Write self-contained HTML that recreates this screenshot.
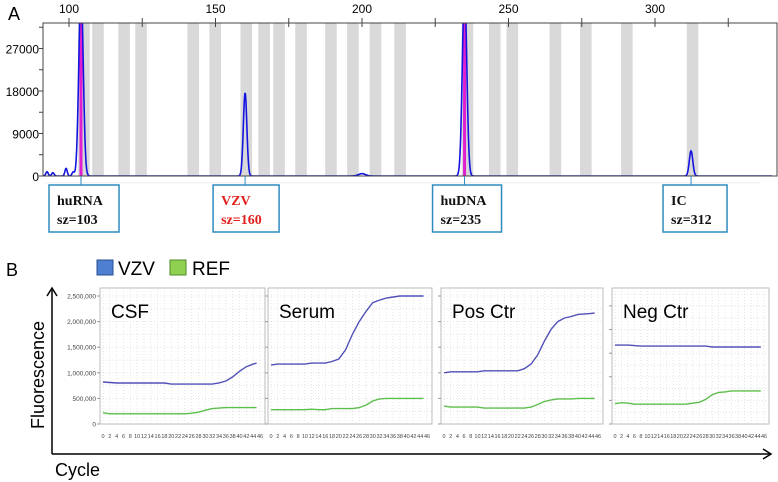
<!DOCTYPE html>
<html><head><meta charset="utf-8">
<style>
body{margin:0;background:#fff;font-family:"Liberation Sans",sans-serif;}
svg{display:block}
</style></head>
<body>
<svg id="fig" width="778" height="482" viewBox="0 0 778 482" xmlns="http://www.w3.org/2000/svg">
<text x="8" y="20" font-size="18">A</text>
<text x="6" y="276" font-size="18">B</text>
<g id="topChart"></g>
<g id="legend">
 <rect x="97" y="260" width="16" height="15" fill="#4f7fd0" stroke="#2a4f90"/>
 <text x="118" y="275" font-size="19">VZV</text>
 <rect x="170" y="260" width="16" height="15" fill="#8fd050" stroke="#4f8a28"/>
 <text x="192" y="275" font-size="19">REF</text>
</g>
<g>
 <line x1="52" y1="290" x2="52" y2="454" stroke="#000" stroke-width="1.5"/>
 <path d="M47,296 L52,288 L57,296" fill="none" stroke="#000" stroke-width="1.5"/>
 <line x1="52" y1="454" x2="770" y2="454" stroke="#000" stroke-width="1.5"/>
 <path d="M763,449 L771,454 L763,459" fill="none" stroke="#000" stroke-width="1.5"/>
 <text transform="translate(44,375) rotate(-90)" text-anchor="middle" font-size="18">Fluorescence</text>
 <text x="55" y="476" font-size="18">Cycle</text>
</g>
<g id="panels"></g>
</svg>
<script>
// ---- Top chart data ----
const peakSizes = [92.5, 94.5, 99, 101.4, 104.1, 160.1, 200, 235, 312.3];
const peakHeights = [900, 700, 1600, 800, 40000, 17600, 500, 40000, 5300];
const peakWidths = [0.4, 0.4, 0.4, 0.4, 0.75, 0.6, 1.2, 0.75, 0.6];
const binCenters = [105.1,109.9,118.8,124.6,142.4,149.9,160.5,166.6,171.7,179.2,189.4,196.9,204.6,213,236.0,245.3,251.3,266,276.4,290.4,312.8];
const sizeTicks = [100,150,200,250,300];
const intensityTicks = [0,9000,18000,27000];
const labelNames = ["huRNA","VZV","huDNA","IC"];
const labelSizes = [103,160,235,312];
const labelPeak = [104.1,160.1,235,312.3];

// ---- qPCR data (millions) ----
const cycles = [0,2,4,6,8,10,12,14,16,18,20,22,24,26,28,30,32,34,36,38,40,42,44,45];
const panelNames = ["CSF","Serum","Pos Ctr","Neg Ctr"];
const vzvCSF = [0.82,0.81,0.80,0.80,0.80,0.80,0.80,0.80,0.80,0.80,0.78,0.78,0.78,0.78,0.78,0.78,0.78,0.80,0.84,0.92,1.03,1.12,1.17,1.19];
const refCSF = [0.22,0.20,0.20,0.20,0.20,0.20,0.20,0.20,0.20,0.20,0.20,0.20,0.20,0.21,0.23,0.27,0.30,0.31,0.32,0.32,0.32,0.32,0.32,0.32];
const vzvSerum = [1.15,1.17,1.17,1.17,1.17,1.17,1.19,1.19,1.19,1.22,1.27,1.45,1.75,2.0,2.2,2.37,2.42,2.46,2.48,2.5,2.5,2.5,2.5,2.5];
const refSerum = [0.28,0.28,0.28,0.28,0.28,0.28,0.29,0.28,0.28,0.30,0.30,0.30,0.30,0.32,0.37,0.45,0.49,0.50,0.50,0.50,0.50,0.50,0.50,0.50];
const vzvPos = [1.0,1.02,1.02,1.02,1.02,1.02,1.04,1.04,1.04,1.04,1.04,1.04,1.08,1.17,1.35,1.62,1.85,2.0,2.07,2.1,2.14,2.15,2.16,2.17];
const refPos = [0.35,0.33,0.33,0.33,0.33,0.33,0.31,0.31,0.31,0.31,0.31,0.31,0.31,0.33,0.38,0.44,0.47,0.49,0.49,0.49,0.50,0.50,0.50,0.50];
const vzvNeg = [1.67,1.67,1.67,1.66,1.65,1.65,1.65,1.65,1.65,1.65,1.65,1.65,1.65,1.65,1.65,1.63,1.63,1.63,1.63,1.63,1.63,1.63,1.63,1.63];
const refNeg = [0.43,0.45,0.44,0.42,0.42,0.42,0.42,0.42,0.42,0.42,0.42,0.42,0.44,0.46,0.52,0.62,0.67,0.68,0.70,0.70,0.70,0.70,0.70,0.70];
const yTickLabels = ["0","500,000","1,000,000","1,500,000","2,000,000","2,500,000"];
const yTickValues = [0,0.5,1.0,1.5,2.0,2.5];

const NS="http://www.w3.org/2000/svg";
function mk(tag,attrs,parent){const e=document.createElementNS(NS,tag);for(const k in attrs)e.setAttribute(k,attrs[k]);parent.appendChild(e);return e;}

// ---- Top chart ----
(function(){
 const g=document.getElementById('topChart');
 const L=43,R=777,T=23,B=176;
 const xs=s=>69+(s-100)*2.93;
 const ys=v=>B-v*(42.5/9000);
 binCenters.forEach((c,i)=>{
  const r=mk('rect',{x:xs(c)-5.8,y:T,width:11.6,height:B-T,fill:'#d9d9d9'},g);
  
  
 });
 [104.1,235].forEach((c,i)=>{
  const r=mk('rect',{x:xs(c)-1.5,y:T,width:3,height:B-T,fill:'#e020d0'},g);
  
  
 });
 const clip=mk('clipPath',{id:'topclip'},g);mk('rect',{x:L,y:T,width:R-L,height:B-T},clip);
 let d='';
 for(let s=91;s<=340;s+=0.1){
  let v=0;
  for(let i=0;i<peakSizes.length;i++){const z=(s-peakSizes[i])/peakWidths[i];v+=peakHeights[i]*Math.exp(-0.5*z*z);}
  d+=(d?'L':'M')+xs(s).toFixed(2)+','+ys(v).toFixed(2);
 }
 const p=mk('path',{d:d,fill:'none',stroke:'#1414e0','stroke-width':1.6,'clip-path':'url(#topclip)'},g);
 
 
 mk('rect',{x:L,y:T,width:R-L,height:B-T,fill:'none',stroke:'#444','stroke-width':1},g);
 for(let s=100;s<=325;s+=25){mk('line',{x1:xs(s),y1:T-5,x2:xs(s),y2:T+4,stroke:'#444'},g);}
 sizeTicks.forEach(s=>{const t=mk('text',{x:xs(s),y:13,'text-anchor':'middle','font-size':12},g);t.textContent=s;
  
  });
 for(let v=0;v<=31500;v+=4500){mk('line',{x1:L-4,y1:ys(v),x2:L,y2:ys(v),stroke:'#444'},g);}
 intensityTicks.forEach(v=>{const t=mk('text',{x:L-4,y:ys(v)+5,'text-anchor':'end','font-size':12},g);t.textContent=v;
  
  });
 mk('line',{x1:45,y1:183,x2:760,y2:183,stroke:'#eee'},g);
 const boxW=[70,66,69,64];
 labelNames.forEach((n,i)=>{
  const cx=xs(labelPeak[i]);
  const bx= i===3? cx-28 : cx-32;
  mk('line',{x1:cx,y1:B,x2:cx,y2:185,stroke:'#2e8bc0'},g);
  const r=mk('rect',{x:bx,y:185,width:boxW[i],height:47,fill:'#fff',stroke:'#2e8bc0','stroke-width':1.5},g);
  
  
  const col=n==='VZV'?'#e0201c':'#111';
  const t1=mk('text',{x:bx+8,y:205,'font-size':14,'font-weight':'bold','font-family':'Liberation Serif, serif',fill:col},g);t1.textContent=n;
  
  
  const t2=mk('text',{x:bx+8,y:224,'font-size':14,'font-weight':'bold','font-family':'Liberation Serif, serif',fill:col},g);t2.textContent='sz='+labelSizes[i];
  
  
 });
})();

// ---- qPCR panels ----
(function(){
 const g=document.getElementById('panels');
 const boxes=[[100,265],[268,432],[441,603],[612,769]];
 const series=[[vzvCSF,refCSF],[vzvSerum,refSerum],[vzvPos,refPos],[vzvNeg,refNeg]];
 const maxes=[2.5,2.5,2.5,2.71];
 const T=296,B=424,TOP=288;
 boxes.forEach((bx,pi)=>{
  const pg=mk('g',{},g);
  
  
  const [l,r]=bx;
  const xs=c=>l+3+c*(r-l-8)/46;
  const ys=v=>B-v*(B-T)/maxes[pi];
  mk('rect',{x:l,y:TOP,width:r-l,height:B-TOP,fill:'#fff',stroke:'#bbb'},pg);
  for(let c=0;c<=46;c+=2){mk('line',{x1:xs(c),y1:TOP,x2:xs(c),y2:B,stroke:'#ddd','stroke-dasharray':'1,2','stroke-width':0.8},pg);}
  for(let v=0.25;v<maxes[pi]+0.3;v+=0.25){const y=ys(v);if(y<TOP)break;mk('line',{x1:l,y1:y,x2:r,y2:y,stroke:'#ddd','stroke-dasharray':'1,2','stroke-width':0.8},pg);}
  yTickValues.forEach(v=>{const y=ys(v);if(y>=TOP-1)mk('line',{x1:l-3,y1:y,x2:l,y2:y,stroke:'#999'},pg);});
  for(let c=0;c<=46;c+=2){const t=mk('text',{x:xs(c),y:438,'text-anchor':'middle','font-size':5.5,fill:'#444'},pg);t.textContent=c;
   
   }
  if(pi===0){yTickValues.forEach((v,i)=>{const t=mk('text',{x:l-4,y:ys(v)+2.5,'text-anchor':'end','font-size':6.5,fill:'#444'},pg);t.textContent=yTickLabels[i];
   
   });}
  const title=mk('text',{x:l+11,y:318,'font-size':19},pg);title.textContent=panelNames[pi];
  
  
  const cols=['#5050b8','#5cbf4c'];
  series[pi].forEach((arr,si)=>{
   const d=arr.map((v,i)=>(i?'L':'M')+xs(cycles[i]).toFixed(1)+','+ys(v).toFixed(1)).join('');
   const p=mk('path',{d:d,fill:'none',stroke:cols[si],'stroke-width':1.4},pg);
   
   
  });
 });
})();
</script>
</body></html>
